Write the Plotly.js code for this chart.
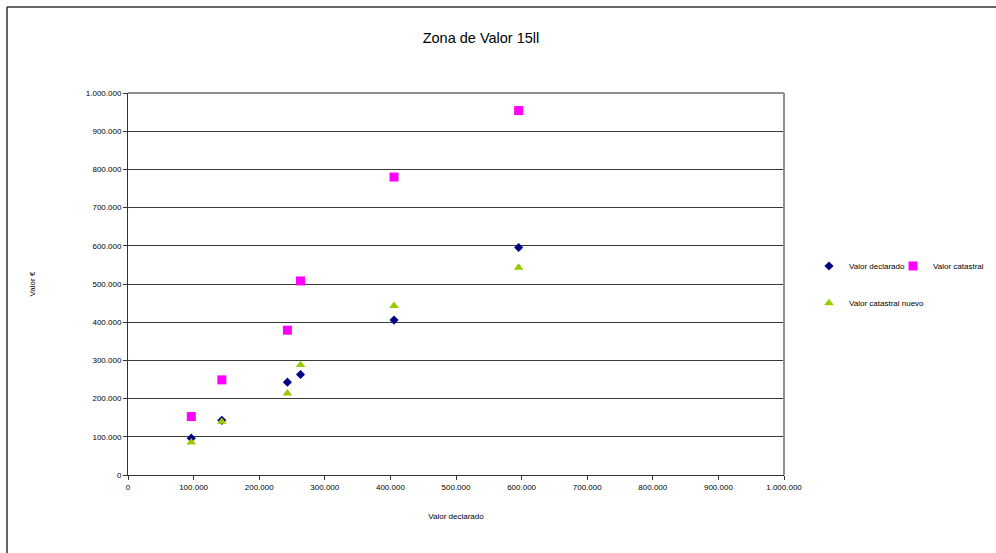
<!DOCTYPE html>
<html>
<head>
<meta charset="utf-8">
<script src="https://cdn.plot.ly/plotly-3.0.1.min.js"></script>
<style>
  html, body { margin: 0; padding: 0; background: #ffffff; }
  #chart { width: 996px; height: 553px; }
</style>
</head>
<body>
<div id="chart"></div>
<script>
// Declared value of each property (x axis)
var valorDeclarado = [96500, 143000, 243000, 263000, 405500, 595500];
// Values plotted against it
var serieDeclarado = [96500, 143000, 243000, 263000, 405500, 595500];
var serieCatastral = [153000, 249000, 379000, 508000, 780000, 954000];
var serieCatastralNuevo = [85500, 139500, 214000, 288000, 443000, 543000];

var seriesNames = ['Valor declarado', 'Valor catastral', 'Valor catastral nuevo'];
var axisTicks = [0, 100000, 200000, 300000, 400000, 500000, 600000, 700000, 800000, 900000, 1000000];

var W = 996, H = 553;
var M = { l: 128, r: 212, t: 93, b: 78 };
var plotW = W - M.l - M.r, plotH = H - M.t - M.b;
function px(x) { return (x - M.l) / plotW; }
function py(y) { return (H - M.b - y) / plotH; }

var font = 'Liberation Sans, Arial, sans-serif';

var traces = [
  {
    type: 'scatter', mode: 'markers', name: seriesNames[0],
    x: valorDeclarado, y: serieDeclarado,
    marker: { symbol: 'diamond', size: 7, color: '#000080' },
    legend: 'legend'
  },
  {
    type: 'scatter', mode: 'markers', name: seriesNames[1],
    x: valorDeclarado, y: serieCatastral,
    marker: { symbol: 'square', size: 9, color: '#ff00ff' },
    legend: 'legend2'
  },
  {
    type: 'scatter', mode: 'markers', name: seriesNames[2],
    x: valorDeclarado, y: serieCatastralNuevo,
    marker: { symbol: 'triangle-up', size: 8.5, color: '#99cc00' },
    legend: 'legend3'
  }
];

// legends positioned in container pixels
function legendAt(x, y) {
  return {
    x: x / W, y: 1 - y / H, xref: 'container', yref: 'container',
    xanchor: 'left', yanchor: 'middle',
    bgcolor: 'rgba(0,0,0,0)', borderwidth: 0,
    font: { family: font, size: 8, color: '#000000' },
    itemwidth: 30, tracegroupgap: 0
  };
}

var layout = {
  width: W, height: H,
  margin: M,
  paper_bgcolor: '#ffffff', plot_bgcolor: '#ffffff',
  separators: ',.',
  font: { family: font, size: 8, color: '#000000' },
  title: {
    text: 'Zona de Valor 15ll',
    font: { family: font, size: 14.5, color: '#000000' },
    xref: 'container', yref: 'container',
    x: 481 / W, y: 1 - 38 / H, xanchor: 'center', yanchor: 'middle'
  },
  xaxis: {
    range: [0, 1000000], tickvals: axisTicks, tickformat: ',d',
    showgrid: false, zeroline: false,
    showline: true, linecolor: '#333333', linewidth: 1,
    ticks: 'outside', ticklen: 4, tickcolor: '#333333',
    tickfont: { family: font, size: 8, color: '#000000' },
    title: { text: 'Valor declarado', standoff: 22, font: { family: font, size: 8, color: '#000000' } },
    automargin: false, fixedrange: true
  },
  yaxis: {
    range: [0, 1000000], tickvals: axisTicks, tickformat: ',d',
    showgrid: true, gridcolor: '#3a3a3a', gridwidth: 1,
    zeroline: false,
    showline: true, linecolor: '#333333', linewidth: 1,
    ticks: 'outside', ticklen: 4, tickcolor: '#333333',
    tickfont: { family: font, size: 8, color: '#000000' },
    title: { text: 'Valor €', standoff: 49, font: { family: font, size: 8, color: '#000000' } },
    automargin: false, fixedrange: true
  },
  showlegend: true,
  legend: legendAt(809, 266),
  legend2: legendAt(893, 266),
  legend3: legendAt(809, 303),
  shapes: [
    // plot area frame (top and right edges)
    { type: 'line', xref: 'paper', yref: 'paper', x0: 0, x1: 1, y0: 1, y1: 1,
      line: { color: '#8f8f8f', width: 2 } },
    { type: 'line', xref: 'paper', yref: 'paper', x0: 1, x1: 1, y0: 0, y1: 1,
      line: { color: '#8f8f8f', width: 2 } },
    // chart area frame
    { type: 'line', xref: 'paper', yref: 'paper', x0: px(7), x1: px(W + 5), y0: py(7), y1: py(7),
      line: { color: '#333333', width: 1.5 } },
    { type: 'line', xref: 'paper', yref: 'paper', x0: px(7), x1: px(7), y0: py(7), y1: py(H + 5),
      line: { color: '#333333', width: 1.5 } }
  ]
};

Plotly.newPlot('chart', traces, layout, { displayModeBar: false, staticPlot: true });
</script>
</body>
</html>
